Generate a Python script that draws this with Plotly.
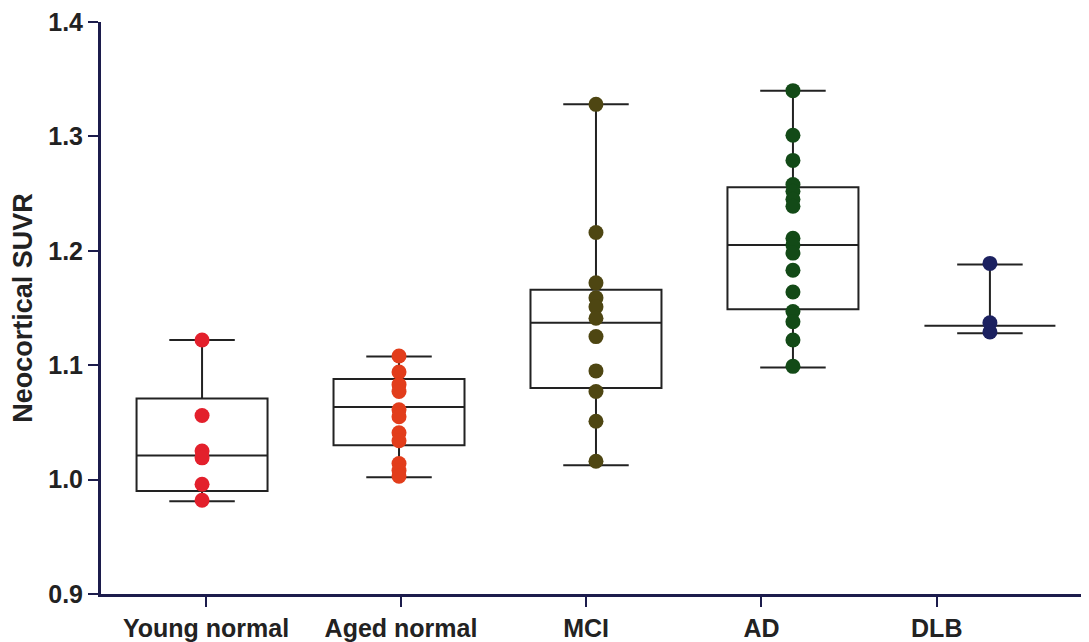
import plotly.graph_objects as go

categories = ["Young normal", "Aged normal", "MCI", "AD", "DLB"]

young_normal = [1.122, 1.056, 1.025, 1.019, 0.996, 0.982]
aged_normal = [1.108, 1.094, 1.083, 1.077, 1.061, 1.055, 1.041, 1.034, 1.014, 1.008, 1.003]
mci = [1.328, 1.216, 1.172, 1.159, 1.151, 1.141, 1.125, 1.095, 1.077, 1.051, 1.016]
ad = [1.340, 1.301, 1.279, 1.258, 1.252, 1.245, 1.239, 1.211, 1.205, 1.198, 1.183,
      1.164, 1.147, 1.138, 1.122, 1.099]
dlb = [1.189, 1.137, 1.129]

# box statistics
q1 = [0.990, 1.030, 1.080, 1.149, 1.1345]
median = [1.021, 1.0635, 1.137, 1.205, 1.1345]
q3 = [1.071, 1.088, 1.166, 1.2555, 1.1345]
lower_whisker = [0.981, 1.002, 1.0125, 1.098, 1.128]
upper_whisker = [1.122, 1.1076, 1.328, 1.340, 1.188]

y_ticks = [0.9, 1.0, 1.1, 1.2, 1.3, 1.4]

series = [young_normal, aged_normal, mci, ad, dlb]
colors = ["#e3202c", "#e23d1b", "#4e4612", "#134a17", "#1c2160"]
tick_pos = [0.02, 1.01, 1.95, 2.84, 3.73]

fig = go.Figure()
for i, name in enumerate(categories):
    fig.add_trace(go.Box(
        x=[i], q1=[q1[i]], median=[median[i]], q3=[q3[i]],
        lowerfence=[lower_whisker[i]], upperfence=[upper_whisker[i]],
        width=0.665, whiskerwidth=0.5,
        line=dict(color="#222222", width=2), fillcolor="rgba(255,255,255,0)",
        boxpoints=False, showlegend=False, hoverinfo="skip", name=name))
for i, vals in enumerate(series):
    fig.add_trace(go.Scatter(
        x=[i] * len(vals), y=vals, mode="markers",
        marker=dict(color=colors[i], size=15, line=dict(width=0)),
        showlegend=False, name=categories[i]))

axis_color = "#1c1c4c"
fig.update_layout(
    width=1081, height=634,
    margin=dict(l=93, r=0, t=11, b=45),
    paper_bgcolor="white", plot_bgcolor="white",
    font=dict(family="Liberation Sans, Arial, sans-serif", color="#222222"),
    xaxis=dict(range=[-0.513, 4.503], tickvals=tick_pos, ticktext=categories,
               showgrid=False, zeroline=False, showline=True, linecolor=axis_color,
               linewidth=3, ticks="outside", ticklen=10, tickwidth=2, tickcolor=axis_color,
               tickfont=dict(size=25, weight="bold"), ticklabeloverflow="allow"),
    yaxis=dict(range=[0.9, 1.4], tickvals=y_ticks, tickformat=".1f",
               showgrid=False, zeroline=False, showline=True, linecolor=axis_color,
               linewidth=3, ticks="outside", ticklen=10, tickwidth=2, tickcolor=axis_color,
               tickfont=dict(size=25, weight="bold"), ticklabeloverflow="allow",
               title=dict(text="Neocortical SUVR", font=dict(size=27, weight="bold"), standoff=10)),
)
fig.write_html("out.html")
